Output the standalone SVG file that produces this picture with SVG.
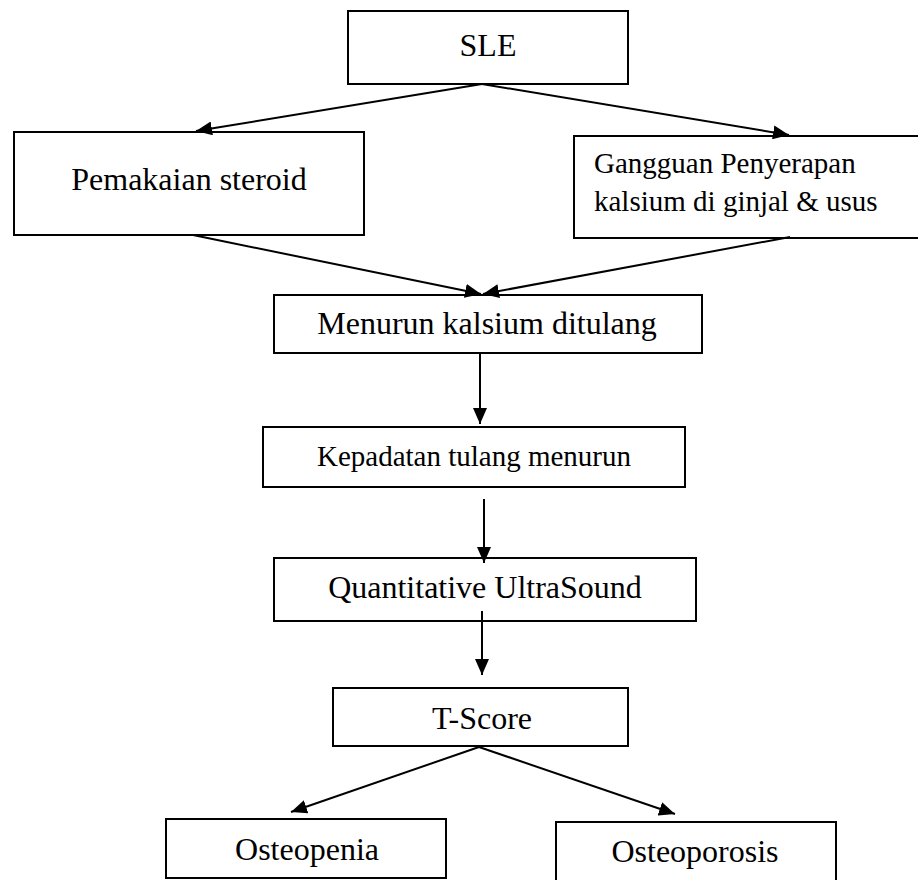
<svg xmlns="http://www.w3.org/2000/svg" width="918" height="880" viewBox="0 0 918 880">
<style>
.box{fill:#fff;stroke:#000;stroke-width:2}
.t{font-family:"Liberation Serif","Times New Roman",serif;font-size:32px;fill:#000;text-anchor:middle}
.ts{font-family:"Liberation Serif","Times New Roman",serif;font-size:29px;fill:#000}
.c{stroke:#000;stroke-width:2;fill:none;marker-end:url(#ah)}
</style>
<defs>
<marker id="ah" markerUnits="userSpaceOnUse" markerWidth="17" markerHeight="14" refX="16" refY="7" orient="auto">
<path d="M0,0 L16,7 L0,14 Z" fill="#000"/>
</marker>
</defs>
<rect width="918" height="880" fill="#fff"/>
<g id="sle">
<rect class="box" x="348" y="11" width="280" height="73"/>
<text class="t" x="488" y="56">SLE</text>
</g>
<g id="steroid">
<rect class="box" x="14" y="132" width="350" height="103"/>
<text class="t" x="189" y="190">Pemakaian steroid</text>
</g>
<g id="gangguan">
<rect class="box" x="574" y="136" width="360" height="102"/>
<text class="ts" x="594" y="173">Gangguan Penyerapan</text>
<text class="ts" x="594" y="211">kalsium di ginjal &amp; usus</text>
</g>
<g id="menurun">
<rect class="box" x="274" y="295" width="428" height="58"/>
<text class="t" x="487" y="334">Menurun kalsium ditulang</text>
</g>
<g id="kepadatan">
<rect class="box" x="263" y="427" width="422" height="60"/>
<text class="t" x="474" y="466" style="font-size:29px">Kepadatan tulang menurun</text>
</g>
<g id="qus">
<rect class="box" x="274" y="558" width="422" height="63"/>
<text class="t" x="485" y="598">Quantitative UltraSound</text>
</g>
<g id="tscore">
<rect class="box" x="333" y="688" width="295" height="58"/>
<text class="t" x="482" y="729">T-Score</text>
</g>
<g id="osteopenia">
<rect class="box" x="166" y="819" width="280" height="59"/>
<text class="t" x="307" y="860">Osteopenia</text>
</g>
<g id="osteoporosis">
<rect class="box" x="556" y="822" width="280" height="70"/>
<text class="t" x="695" y="862">Osteoporosis</text>
</g>
<g id="connectors">
<line class="c" x1="482" y1="84" x2="196" y2="131"/>
<line class="c" x1="482" y1="84" x2="789" y2="135"/>
<line class="c" x1="193" y1="235" x2="481" y2="294"/>
<line class="c" x1="790" y1="237" x2="483" y2="294"/>
<line class="c" x1="480" y1="353" x2="480" y2="424"/>
<line class="c" x1="484" y1="499" x2="484" y2="563"/>
<line class="c" x1="482" y1="611" x2="482" y2="675"/>
<line class="c" x1="479" y1="747" x2="291" y2="812"/>
<line class="c" x1="479" y1="747" x2="675" y2="814"/>
</g>
</svg>
